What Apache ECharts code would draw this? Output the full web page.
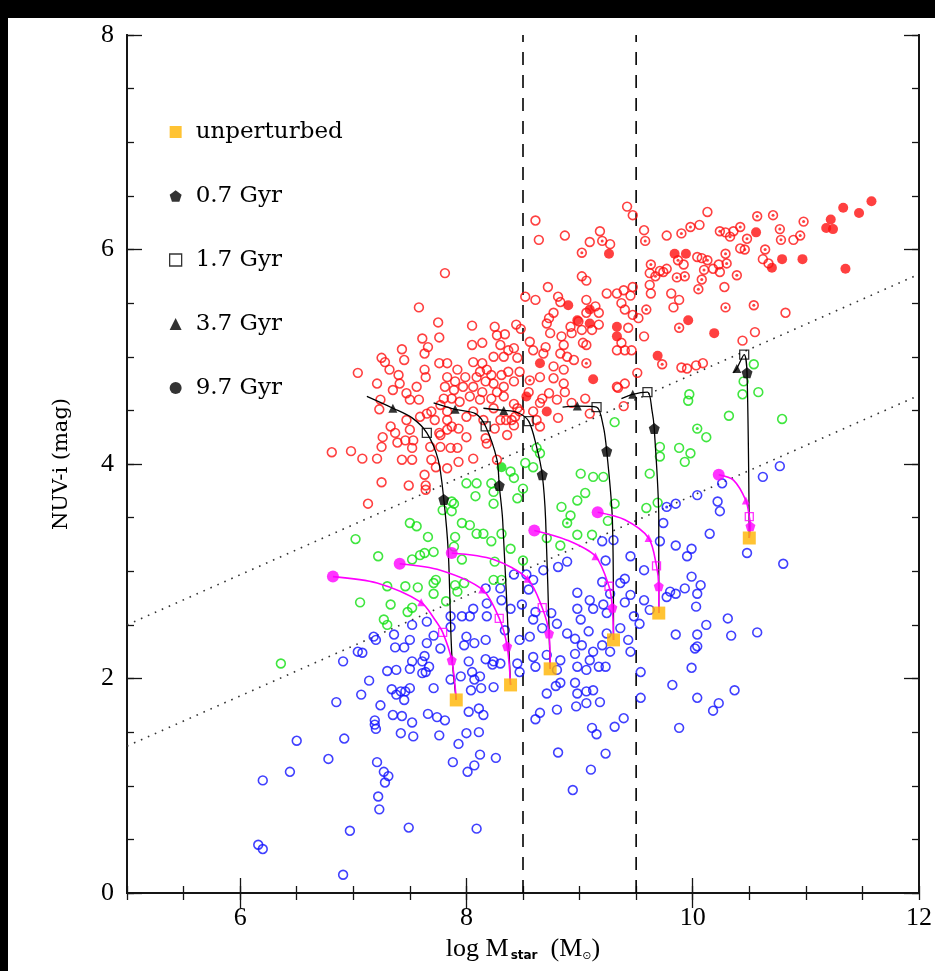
<!DOCTYPE html>
<html>
<head>
<meta charset="utf-8">
<script src="https://cdn.jsdelivr.net/npm/echarts@6/dist/echarts.min.js"></script>
<style>
html,body{margin:0;padding:0;background:#fff;}
#chart{width:935px;height:971px;}
</style>
</head>
<body>
<div id="chart"></div>
<script>
// ---- axis tick labels ----
const xTickLabels = [6, 8, 10, 12];
const xMajorTicks = [6, 8, 10];
const yTickLabels = [0, 2, 4, 6, 8];

// ---- galaxy sample: [log Mstar, NUV-i] ----
const redOpen = [
  [8.61,6.27],[8.64,6.09],[8.87,6.13],[9.18,6.17],[9.09,6.07],[9.27,6.05],[9.02,5.75],[9.06,5.71],[8.72,5.65],[9.24,5.59],
  [7.81,5.78],[7.58,5.46],[8.52,5.56],[8.61,5.53],[8.81,5.56],[8.83,5.51],[9.06,5.53],[9.33,5.59],[9.14,5.47],[9.17,5.41],
  [9.06,5.41],[8.99,5.33],[9.17,5.30],[8.73,5.36],[8.77,5.41],[8.71,5.31],[8.74,5.22],[8.84,5.19],[8.92,5.28],[8.93,5.22],
  [9.02,5.25],[9.11,5.25],[9.03,5.13],[9.06,5.11],[8.86,5.11],[8.83,5.03],[8.89,5.00],[8.95,4.97],[8.70,5.09],[8.68,5.03],
  [8.59,5.06],[8.56,5.14],[8.77,4.91],[8.86,4.88],[9.33,5.06],[9.34,4.71],[8.65,4.81],[8.77,4.80],[8.86,4.75],[8.87,4.67],
  [8.73,4.66],[8.67,4.61],[8.80,4.60],[9.05,4.61],[9.09,4.47],
  [7.75,5.32],[7.76,5.18],[7.61,5.17],[7.66,5.09],[7.63,5.03],[7.43,5.07],[7.45,4.97],[7.25,4.99],[7.28,4.95],[7.32,4.88],
  [7.04,4.85],[7.21,4.75],[7.35,4.69],[7.40,4.83],[7.41,4.75],[7.47,4.66],[7.56,4.72],[7.63,4.88],[7.64,4.81],[7.58,4.60],
  [7.50,4.60],[7.24,4.60],[7.23,4.51],[7.33,4.35],[7.47,4.41],[7.65,4.47],
  [8.05,5.29],[8.05,5.11],[8.14,5.13],[8.25,5.28],[8.27,5.20],[8.34,5.21],[8.44,5.30],[8.48,5.26],[8.30,5.11],[8.37,5.06],
  [8.45,4.99],[8.42,5.08],[8.33,5.00],[8.24,5.00],[8.06,4.95],[8.14,4.94],[8.18,4.88],[8.12,4.86],[8.22,4.83],[8.09,4.81],
  [8.17,4.77],[8.24,4.75],[8.31,4.83],[8.37,4.86],[8.47,4.86],[8.42,4.77],[8.33,4.72],[8.27,4.67],[8.14,4.67],[8.06,4.72],
  [7.99,4.81],[7.92,4.88],[7.83,4.94],[7.76,4.94],[7.90,4.77],[7.83,4.81],[7.81,4.72],[7.89,4.69],[7.97,4.72],[8.03,4.63],
  [7.94,4.58],[7.87,4.61],[7.80,4.61],[7.77,4.55],[7.83,4.49],[7.69,4.49],[7.72,4.41],[7.83,4.41],[8.12,4.60],[8.22,4.61],
  [8.33,4.63],[8.42,4.56],[8.45,4.52],[8.06,4.49],[8.15,4.41],[8.24,4.52],[8.30,4.41],[8.40,4.41],[8.47,4.49],[8.55,4.67],
  [8.59,4.49],[8.65,4.57],[8.62,4.41],
  [7.26,4.25],[7.25,4.16],[7.21,4.05],[7.08,4.05],[6.98,4.12],[7.13,3.63],[7.25,3.83],[7.46,4.22],[7.52,4.15],[7.43,4.04],
  [7.52,4.04],[7.63,3.90],[7.49,3.80],[7.64,3.80],[7.68,4.16],[7.69,4.04],[7.77,4.16],[7.86,4.15],[7.92,4.15],[7.83,3.96],
  [7.77,4.27],[7.83,4.32],[7.87,4.35],[7.93,4.33],[8.00,4.25],[8.06,4.05],[8.17,4.24],[8.18,4.19],[8.27,4.04],[8.25,4.33],
  [8.36,4.27],[8.35,4.41],[7.59,4.44],[8.00,4.44],[8.43,4.44],[8.42,4.36],[8.65,4.35],[8.81,4.43],[8.93,4.57],[9.33,4.72],
  [9.40,4.75],[9.51,4.85],
  [9.42,6.40],[9.47,6.32],[9.57,6.18],[9.77,6.13],[10.06,6.23],[10.13,6.35],[10.29,6.16],[10.36,6.17],[10.89,6.09],[10.62,5.91],
  [10.67,5.87],[10.42,6.01],[10.23,5.86],[10.18,5.82],[10.24,5.79],[10.08,5.92],[10.04,5.93],[10.28,5.65],[9.92,5.86],[9.77,5.82],
  [9.74,5.79],[9.62,5.78],[9.71,5.80],[9.62,5.67],[9.63,5.59],[9.81,5.59],[9.88,5.53],[9.83,5.46],[9.52,5.36],[9.47,5.65],
  [9.45,5.57],[9.39,5.62],[9.37,5.50],[9.40,5.44],[9.47,5.39],[9.43,5.27],[9.57,5.19],[9.37,5.13],[9.40,5.06],[9.46,5.06],
  [10.82,5.41],[10.55,5.23],[10.44,5.15],[9.90,4.90],[9.95,4.89],[10.03,4.92],[10.09,4.94],[9.39,4.54],
  [6.81,4.11],[7.64,3.76],[7.37,4.29],[7.39,4.20],[7.73,3.97],[7.93,4.02],[7.76,4.29],[7.53,4.22],[7.50,4.32]
];
const redDotted = [
  [9.20,6.08],[9.02,5.97],[9.06,4.94],[8.56,4.78],[9.58,6.08],[9.90,6.15],[9.98,6.21],[10.24,6.17],[10.33,6.12],[10.42,6.21],
  [10.48,6.10],[10.57,6.31],[10.71,6.32],[10.77,6.19],[10.78,6.09],[10.95,6.13],[10.98,6.26],[10.64,6.00],[10.46,6.00],[10.29,5.96],
  [10.30,5.87],[10.13,5.90],[10.10,5.81],[10.08,5.72],[10.05,5.63],[10.39,5.76],[9.87,5.90],[9.93,5.75],[9.86,5.74],[9.63,5.86],
  [9.67,5.75],[9.59,5.44],[9.88,5.27],[10.29,5.46],[10.54,5.48],[9.73,4.93]
];
const redFilled = [
  [9.26,5.96],[8.90,5.48],[9.09,5.44],[8.98,5.34],[9.09,5.31],[9.33,5.28],[9.33,5.19],[8.65,4.94],[9.12,4.79],[8.71,4.49],
  [8.53,4.63],[10.56,6.16],[11.22,6.28],[11.18,6.20],[11.24,6.19],[11.33,6.39],[11.47,6.34],[11.58,6.45],[11.35,5.82],[10.97,5.91],
  [10.79,5.91],[10.70,5.83],[9.94,5.96],[9.84,5.96],[9.96,5.34],[10.19,5.22],[9.69,5.01]
];
const greenOpen = [
  [10.54,4.93],[10.58,4.67],[10.44,4.65],[10.45,4.77],[9.97,4.65],[9.96,4.59],[10.32,4.45],[10.79,4.42],[9.31,4.39],
  [10.12,4.25],[9.88,4.15],[9.98,4.10],[9.93,4.02],[9.71,4.16],[9.71,4.07],[9.62,3.91],[9.69,3.64],[9.59,3.59],[9.21,3.88],
  [9.31,3.63],[9.25,3.47],
  [8.39,3.93],[8.42,3.87],[8.52,4.01],[8.59,3.97],[8.62,4.15],[8.65,4.10],[8.00,3.82],[8.09,3.82],[8.22,3.82],[8.24,3.74],
  [8.50,3.77],[8.08,3.70],[8.24,3.63],[8.45,3.68],[7.89,3.63],[7.87,3.56],[7.96,3.45],[8.03,3.43],[8.09,3.35],[8.15,3.35],
  [8.31,3.35],[8.22,3.28],[8.39,3.21],[8.71,3.31],[8.83,3.24],[8.84,3.60],[8.92,3.52],
  [8.98,3.66],[9.01,3.91],[9.05,3.73],[9.12,3.88],[9.11,3.34],[7.50,3.45],[7.56,3.42],[7.66,3.32],[7.90,3.32],[7.71,3.18],
  [7.63,3.17],[7.59,3.15],
  [7.87,3.65],[7.79,3.57],[7.89,3.23],[7.02,3.30],[7.22,3.14],[7.52,3.11],[7.96,3.11],[7.46,2.86],[7.57,2.85],[7.71,2.89],
  [7.73,2.92],[7.71,2.79],[7.90,2.87],[7.92,2.81],[7.98,2.89],[7.82,2.72],
  [7.30,2.86],[7.33,2.69],[7.06,2.71],[7.48,2.62],[7.52,2.66],[7.27,2.55],[7.30,2.50],[6.36,2.14],[8.25,3.09],[8.24,2.92],
  [8.31,2.92],[8.50,3.10],[8.98,3.34]
];
const greenDotted = [[10.04,4.33],[8.89,3.45]];
const greenFilled = [[8.31,3.97]];
const blueOpen = [
  [6.91,2.16],[7.04,2.25],[7.08,2.24],[7.20,2.36],[7.14,1.98],[7.07,1.85],[6.85,1.78],[7.24,1.75],[7.30,2.07],[7.38,2.08],
  [7.37,2.29],[7.45,2.29],[7.52,2.16],[7.50,2.09],[7.34,1.90],[7.38,1.85],[7.42,1.88],[7.46,1.88],[7.50,1.91],[7.45,1.80],
  [7.35,1.66],[7.43,1.65],[7.19,1.61],[7.19,1.57],[7.20,1.53],[7.52,1.59],[7.42,1.49],[7.53,1.46],[6.92,1.44],[6.50,1.42],
  [6.78,1.25],[6.44,1.13],[6.20,1.05],[7.21,1.22],[7.27,1.13],[7.31,1.09],[7.28,1.03],[7.22,0.90],[7.23,0.78],[6.97,0.58],
  [7.49,0.61],[8.09,0.60],[6.16,0.45],[6.20,0.41],[6.91,0.17],
  [7.63,2.21],[7.64,2.06],[7.67,2.11],[7.77,2.28],[7.71,1.91],[7.66,1.67],[7.74,1.64],[7.81,1.61],[7.76,1.47],[7.88,1.22],
  [7.93,1.39],[8.00,1.49],[8.02,1.69],[8.11,1.72],[8.15,1.66],[8.11,1.50],[8.12,1.29],[8.07,1.19],[8.01,1.13],[8.26,1.26],
  [7.86,1.99],[7.95,2.02],[8.02,2.16],[7.98,2.31],[8.07,2.33],[8.17,2.18],[8.24,2.16],[8.23,2.13],[8.05,2.06],[8.12,2.02],
  [8.07,1.99],[8.04,1.89],[8.13,1.91],[8.24,1.92],[8.45,2.14],
  [7.86,2.58],[7.96,2.58],[7.65,2.53],[7.52,2.50],[7.36,2.41],[7.18,2.39],[7.61,2.16],[7.71,2.40],
  [8.17,2.84],[8.30,2.84],[8.31,2.73],[8.42,2.97],[8.53,2.97],[8.59,2.92],[8.68,3.01],[8.81,3.04],[8.89,3.09],[8.55,2.83],
  [8.49,2.69],[8.39,2.65],[8.06,2.65],[8.03,2.58],[8.18,2.58],[8.00,2.39],[8.17,2.36],[8.30,2.14],[7.86,2.48],[7.65,2.33],
  [7.61,2.05],[7.50,2.36],
  [8.47,2.36],[8.59,2.20],[8.61,2.11],[8.47,2.06],[8.59,2.55],[8.56,2.39],[8.67,2.47],[8.80,2.51],[8.89,2.42],[8.98,2.65],
  [9.01,2.55],[9.09,2.73],[9.12,2.65],[9.24,2.61],[9.36,2.47],[9.24,2.42],[9.20,2.31],[9.27,2.25],[9.12,2.25],[9.09,2.17],
  [9.17,2.11],[9.06,2.08],[8.98,2.11],[8.96,2.23],[8.83,2.17],[8.80,2.08],[8.96,1.96],[8.98,1.86],[8.71,1.86],[8.83,1.96],
  [9.06,1.88],[9.12,1.89],[9.18,1.78],[9.06,1.77],[8.80,1.71],[8.65,1.68],
  [9.27,2.79],[9.36,2.89],[9.40,2.93],[9.20,2.90],[9.23,3.10],[9.20,3.28],[9.30,3.29],[9.45,2.78],[9.48,2.58],[9.43,2.36],
  [9.45,2.25],[9.57,2.73],[9.57,3.01],[9.71,3.28],[9.74,3.45],[9.85,3.24],[9.95,3.14],[9.99,2.95],[9.93,2.84],[9.85,2.79],
  [9.77,2.76],[9.85,2.41],[9.99,2.10],[9.82,1.94],[10.02,2.28],[9.54,2.06],[9.54,1.82],[9.62,2.64],
  [8.98,2.80],[9.21,2.69],[9.40,2.71],[9.80,2.81],[10.04,2.79],[10.07,2.87],[10.03,2.67],[10.12,2.50],[10.31,2.56],[10.34,2.40],
  [10.57,2.43],[10.04,2.41],[10.04,2.30],[10.04,1.82],[10.23,1.77],[10.18,1.70],[10.37,1.89],[9.88,1.54],[9.53,2.51],[9.39,1.63],
  [9.31,1.55],[9.23,1.30],[9.10,1.15],[8.94,0.96],[9.15,1.48],[9.11,1.54],[9.23,2.11],[8.97,1.74],[8.79,1.93],[8.61,1.62],
  [8.81,1.31],[8.71,2.22],[8.61,2.62],[8.75,2.61],[8.96,2.37],[9.02,2.31],[9.08,2.44],[8.18,2.70],[8.34,2.45],
  [10.77,3.98],[10.62,3.88],[10.26,3.82],[10.22,3.65],[10.24,3.56],[10.04,3.71],[9.85,3.63],[10.15,3.35],[9.99,3.21],[9.45,3.14],
  [10.48,3.17],[10.80,3.07]
];
const blueDotted = [[9.77,3.60]];

// ---- colour-cut boundaries and mass bins ----
const upperCut = [[5, 2.50], [12, 5.77]];
const lowerCut = [[5, 1.37], [12, 4.64]];
const massBins = [8.5, 9.5];

// ---- model tracks (from unperturbed end outwards) ----
const blackTracks = [
  [[7.91,1.80],[7.87,2.24],[7.84,3.17],[7.80,3.67],[7.75,4.04],[7.65,4.29],[7.52,4.43],[7.35,4.52],[7.12,4.63]],
  [[8.39,1.94],[8.32,3.48],[8.29,3.80],[8.27,4.04],[8.17,4.35],[8.08,4.47],[7.90,4.51],[7.71,4.57]],
  [[8.74,2.09],[8.70,3.48],[8.67,3.90],[8.62,4.16],[8.55,4.40],[8.45,4.48],[8.33,4.50],[8.15,4.52]],
  [[9.30,2.36],[9.29,3.48],[9.24,4.12],[9.21,4.35],[9.15,4.53],[8.98,4.54],[8.85,4.53]],
  [[9.70,2.61],[9.70,3.48],[9.66,4.33],[9.64,4.50],[9.60,4.67],[9.47,4.65],[9.37,4.61]],
  [[10.50,3.31],[10.48,4.85],[10.455,5.02],[10.39,4.89],[10.36,4.85]]
];
const magentaTracks = [
  [[6.82,2.95],[7.21,2.89],[7.60,2.71],[7.72,2.55],[7.79,2.43],[7.87,2.17],[7.91,1.80]],
  [[7.41,3.07],[7.77,3.01],[8.14,2.83],[8.29,2.56],[8.36,2.30],[8.39,1.94]],
  [[7.87,3.17],[8.24,3.11],[8.54,2.93],[8.67,2.66],[8.73,2.42],[8.74,2.09]],
  [[8.60,3.38],[8.89,3.29],[9.14,3.14],[9.26,2.86],[9.29,2.66],[9.30,2.36]],
  [[9.16,3.55],[9.40,3.48],[9.61,3.31],[9.68,3.05],[9.70,2.86],[9.70,2.61]],
  [[10.23,3.90],[10.36,3.85],[10.47,3.66],[10.50,3.51],[10.51,3.42],[10.50,3.31]]
];
const unperturbed = [[7.91,1.80],[8.39,1.94],[8.74,2.09],[9.30,2.36],[9.70,2.61],[10.50,3.31]];
const black07 = [[7.80,3.67],[8.29,3.80],[8.67,3.90],[9.24,4.12],[9.66,4.33],[10.48,4.85]];
const black17 = [[7.65,4.29],[8.17,4.35],[8.55,4.40],[9.15,4.53],[9.60,4.67],[10.455,5.02]];
const black37 = [[7.35,4.52],[7.90,4.51],[8.33,4.50],[8.98,4.54],[9.47,4.65],[10.39,4.89]];
const magenta97 = [[6.82,2.95],[7.41,3.07],[7.87,3.17],[8.60,3.38],[9.16,3.55],[10.23,3.90]];
const magenta37 = [[7.60,2.71],[8.14,2.83],[8.54,2.93],[9.14,3.14],[9.61,3.31],[10.47,3.66]];
const magenta17 = [[7.79,2.43],[8.29,2.56],[8.67,2.66],[9.26,2.86],[9.68,3.05],[10.50,3.51]];
const magenta07 = [[7.87,2.17],[8.36,2.30],[8.73,2.42],[9.29,2.66],[9.70,2.86],[10.51,3.42]];

// ---- styling ----
const RED = '#ff1010', GREEN = '#10e010', BLUE = '#1010ff', MAG = '#ff00ff', ORANGE = '#ffb400';
const INK = '#151515';
const SERIF = '"DejaVu Serif", serif';
const NUMFONT = '"Liberation Serif", serif';
const PENTAGON = 'path://M0,-1L0.951,-0.309L0.588,0.809L-0.588,0.809L-0.951,-0.309Z';

function rings(data, color) {
  return { type: 'scatter', data, symbol: 'circle', symbolSize: 8.8, silent: true, z: 2,
    itemStyle: { color: 'rgba(0,0,0,0)', borderColor: color, borderWidth: 1.6 } };
}
function dots(data, color, size) {
  return { type: 'scatter', data, symbol: 'circle', symbolSize: size, silent: true, z: 2,
    itemStyle: { color } };
}
function markers(name, data, symbol, size, style, z) {
  return { type: 'scatter', name, data, symbol, symbolSize: size, silent: true, z: z || 5, itemStyle: style };
}

const tickStyle = { color: INK, width: 1.3 };
const frameLine = { show: true, lineStyle: { color: INK, width: 2 } };

function xAxisDef(position, major) {
  const ax = {
    type: 'value', position, min: 5, max: 12, interval: major ? 1 : 0.5,
    axisLine: frameLine, splitLine: { show: false },
    axisTick: { show: true, inside: true, length: major ? 15 : 7, lineStyle: tickStyle },
    axisLabel: { show: false }
  };
  if (major) ax.axisTick.customValues = xMajorTicks;
  if (major && position === 'bottom') {
    ax.axisLabel = { show: true, customValues: xTickLabels, margin: 12,
      fontFamily: NUMFONT, fontSize: 26, color: '#000' };
    ax.name = '{n|log M}{s|star}{n|  (M}{o|\u2299}{n|)}';
    ax.nameLocation = 'middle';
    ax.nameGap = 40;
    ax.nameTextStyle = { rich: {
      n: { fontFamily: NUMFONT, fontSize: 26, color: '#000' },
      s: { fontFamily: '"DejaVu Sans", sans-serif', fontSize: 12, fontWeight: 'bold', color: '#000', padding: [14, 0, 0, 2] },
      o: { fontFamily: '"DejaVu Sans", sans-serif', fontSize: 11, color: '#000', padding: [14, 0, 0, 0] }
    } };
  }
  return ax;
}
function yAxisDef(position, major) {
  const ax = {
    type: 'value', position, min: 0, max: 8, interval: major ? 2 : 0.5,
    axisLine: frameLine, splitLine: { show: false },
    axisTick: { show: true, inside: true, length: major ? 15 : 7, lineStyle: tickStyle },
    axisLabel: { show: false }
  };
  if (major && position === 'left') {
    ax.axisLabel = { show: true, margin: 13, fontFamily: NUMFONT, fontSize: 26, color: '#000',
      customValues: yTickLabels };
    ax.name = 'NUV-i (mag)';
    ax.nameLocation = 'middle';
    ax.nameGap = 55;
    ax.nameRotate = 90;
    ax.nameTextStyle = { fontFamily: SERIF, fontSize: 21, color: '#000' };
  }
  return ax;
}

const series = [
  // colour cuts and mass bins
  { type: 'line', data: upperCut, symbol: 'none', silent: true, z: 1,
    lineStyle: { color: '#333', width: 1.6, type: [1.6, 6] } },
  { type: 'line', data: lowerCut, symbol: 'none', silent: true, z: 1,
    lineStyle: { color: '#333', width: 1.6, type: [1.6, 6] } },
  ...massBins.map(m => ({ type: 'line', data: [[m, 0], [m, 8]], symbol: 'none', silent: true, z: 1,
    lineStyle: { color: '#000', width: 1.6, type: [13, 10] } })),
  // galaxies
  rings(blueOpen, BLUE), rings(blueDotted, BLUE), dots(blueDotted, BLUE, 3),
  rings(greenOpen, GREEN), rings(greenDotted, GREEN), dots(greenDotted, GREEN, 3), dots(greenFilled, GREEN, 10),
  rings(redOpen, RED), rings(redDotted, RED), dots(redDotted, RED, 3), dots(redFilled, RED, 10),
  // model tracks
  ...blackTracks.map(t => ({ type: 'line', data: t, symbol: 'none', smooth: 0.3, silent: true, z: 3,
    lineStyle: { color: '#000', width: 1.3 } })),
  ...magentaTracks.map(t => ({ type: 'line', data: t, symbol: 'none', smooth: 0.3, silent: true, z: 4,
    lineStyle: { color: MAG, width: 1.6 } })),
  markers('0.7 Gyr', black07, PENTAGON, 11, { color: '#000' }),
  markers('1.7 Gyr', black17, 'rect', 9, { color: 'rgba(255,255,255,0)', borderColor: '#000', borderWidth: 1.3 }),
  markers('3.7 Gyr', black37, 'triangle', 9, { color: '#000' }),
  markers('9.7 Gyr', magenta97, 'circle', 12, { color: MAG }),
  markers('tidal 3.7', magenta37, 'triangle', 8, { color: MAG }),
  markers('tidal 1.7', magenta17, 'rect', 8, { color: 'rgba(255,255,255,0)', borderColor: MAG, borderWidth: 1.3 }),
  markers('tidal 0.7', magenta07, PENTAGON, 10, { color: MAG }),
  markers('unperturbed', unperturbed, 'rect', 13, { color: ORANGE }, 6)
];

const chart = echarts.init(document.getElementById('chart'));
chart.setOption({
  backgroundColor: '#fff',
  animation: false,
  grid: { left: 127, right: 16, top: 35, bottom: 78 },
  xAxis: [xAxisDef('bottom', false), xAxisDef('bottom', true), xAxisDef('top', false), xAxisDef('top', true)],
  yAxis: [yAxisDef('left', false), yAxisDef('left', true), yAxisDef('right', false), yAxisDef('right', true)],
  legend: {
    orient: 'vertical', left: 164, top: 115, itemWidth: 12, itemHeight: 12, itemGap: 40,
    selectedMode: false,
    textStyle: { fontFamily: SERIF, fontSize: 23, color: '#000', lineHeight: 24, padding: [0, 0, 0, 9] },
    data: [
      { name: 'unperturbed', icon: 'rect', itemStyle: { color: ORANGE } },
      { name: '0.7 Gyr', icon: PENTAGON, itemStyle: { color: '#000' } },
      { name: '1.7 Gyr', icon: 'rect', itemStyle: { color: '#fff', borderColor: '#000', borderWidth: 1.3 } },
      { name: '3.7 Gyr', icon: 'triangle', itemStyle: { color: '#000' } },
      { name: '9.7 Gyr', icon: 'circle', itemStyle: { color: '#000' } }
    ]
  },
  graphic: [
    { type: 'rect', left: 0, top: 0, shape: { width: 935, height: 18 }, style: { fill: '#000' }, silent: true },
    { type: 'rect', left: 0, top: 0, shape: { width: 8, height: 971 }, style: { fill: '#000' }, silent: true }
  ],
  series: series.map(s => Object.assign({ xAxisIndex: 0, yAxisIndex: 0 }, s))
});
</script>
</body>
</html>
